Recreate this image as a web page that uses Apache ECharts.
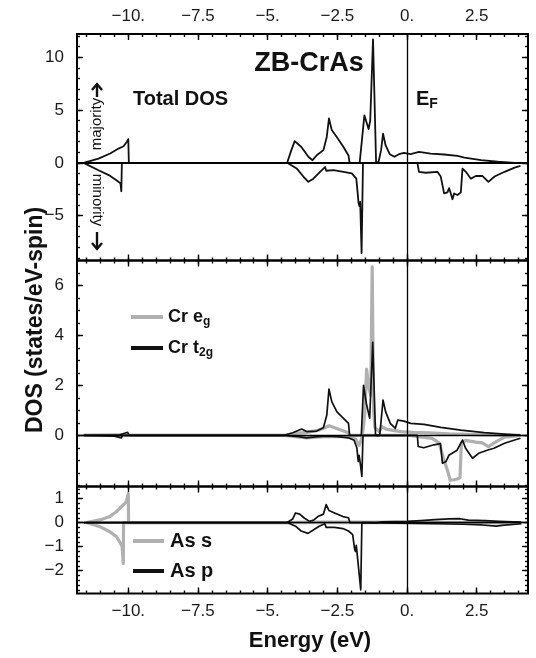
<!DOCTYPE html>
<html>
<head>
<meta charset="utf-8">
<script src="https://cdn.jsdelivr.net/npm/echarts@6/dist/echarts.min.js"></script>
<style>
html, body { margin: 0; padding: 0; background: #fff; }
#dos { width: 536px; height: 658px; }
</style>
</head>
<body>
<div id="dos"></div>
<script>
// energy axis
var xMin = -11.84, xMax = 4.34;
var xTicks = [-10, -7.5, -5, -2.5, 0, 2.5];
var xTickLabels = ['−10.', '−7.5', '−5.', '−2.5', '0.', '2.5'];

// y ticks of the three panels
var yTicksTotal = [-5, 0, 5, 10];
var yLabelsTotal = ['−5', '0', '5', '10'];
var yTicksCr = [0, 2, 4, 6];
var yLabelsCr = ['0', '2', '4', '6'];
var yTicksAs = [-2, -1, 0, 1];
var yLabelsAs = ['−2', '−1', '0', '1'];

// total DOS, [energy, dos]
var totalUp = [[-11.6,0],[-11.07,0.4],[-10.65,0.88],[-10.35,1.35],[-10.17,1.57],[-10.05,2.0],[-10.0,2.25],[-9.98,0],
  [-4.3,0],[-4.15,1.2],[-4.03,2.05],[-3.79,1.5],[-3.54,0.57],[-3.39,0.25],[-3.24,0.72],[-3.0,1.2],[-2.88,2.45],
  [-2.8,4.2],[-2.7,3.1],[-2.52,2.45],[-2.28,1.5],[-2.1,0.7],[-2.06,0],[-1.7,0],[-1.62,2.1],[-1.53,4.5],[-1.46,4.65],
  [-1.38,3.2],[-1.32,4.0],[-1.22,11.7],[-1.11,0],[-1.02,0.1],[-0.93,1.2],[-0.86,2.77],[-0.77,1.67],[-0.62,0.82],
  [-0.45,0.57],[-0.29,0.82],[-0.11,0.94],[0.13,0.82],[0.43,1.04],[0.85,0.88],[1.33,0.79],[1.81,0.66],[2.06,0.5],
  [2.66,0.25],[3.26,0.1],[3.86,0],[4.1,0]];
var totalDown = [[-11.6,0],[-11.07,-0.7],[-10.7,-1.16],[-10.4,-1.7],[-10.28,-1.95],[-10.25,-2.7],[-10.23,0],
  [-4.3,0],[-3.96,-0.53],[-3.72,-1.3],[-3.54,-1.8],[-3.36,-1.5],[-3.12,-0.85],[-2.94,-0.4],[-2.9,-0.75],[-2.64,-0.7],
  [-2.28,-0.85],[-1.98,-1.0],[-1.82,-1.5],[-1.77,-2.9],[-1.74,-3.8],[-1.71,-4.1],[-1.68,-3.7],[-1.63,-8.55],[-1.58,0],
  [0.37,0],[0.43,-0.85],[0.67,-0.94],[1.09,-0.85],[1.21,-1.3],[1.33,-2.9],[1.45,-2.8],[1.51,-2.4],[1.57,-2.9],
  [1.63,-3.45],[1.69,-2.9],[1.81,-3.05],[1.93,-2.8],[1.99,-0.55],[2.11,-0.85],[2.29,-1.5],[2.47,-1.25],[2.71,-1.25],
  [2.92,-1.8],[3.14,-1.3],[3.5,-0.85],[3.86,-0.45],[4.07,-0.3]];

// Cr d partial DOS
var egUp = [[-11.6,0],[-10.1,0.02],[-9.98,0],[-4.4,0],[-4.0,0.08],[-3.6,0.12],[-3.2,0.2],[-2.95,0.3],[-2.8,0.38],
  [-2.6,0.3],[-2.3,0.18],[-2.1,0.1],[-2.05,0],[-1.6,0],[-1.52,0.8],[-1.45,2.65],[-1.38,1.95],[-1.3,1.6],[-1.25,6.75],
  [-1.2,1.0],[-1.15,0.3],[-1.0,0.15],[-0.9,0.35],[-0.75,0.25],[-0.5,0.2],[-0.2,0.15],[0.2,0.12],[0.8,0.1],
  [1.5,0.06],[2.5,0.03],[3.5,0.01],[4.07,0]];
var egDown = [[-11.6,0],[-4.4,0],[-4.0,-0.05],[-3.6,-0.1],[-3.0,-0.05],[-2.2,-0.05],[-1.85,-0.15],[-1.72,-0.4],
  [-1.65,-0.2],[-1.6,0],[0.1,0],[0.4,-0.05],[0.9,-0.12],[1.15,-0.3],[1.3,-0.9],[1.45,-1.4],[1.55,-1.8],[1.7,-1.78],
  [1.8,-1.75],[1.9,-1.7],[1.95,-0.3],[2.1,-0.2],[2.47,-0.27],[2.7,-0.3],[2.92,-0.45],[3.2,-0.25],[3.5,-0.07],[4.07,0]];
var t2gUp = [[-11.6,0],[-10.3,0.02],[-10.02,0.12],[-9.98,0],[-4.4,0],[-4.1,0.1],[-3.78,0.25],[-3.6,0.15],[-3.24,0.17],
  [-3.0,0.3],[-2.88,0.8],[-2.8,1.85],[-2.7,1.35],[-2.52,0.95],[-2.28,0.68],[-2.1,0.48],[-2.06,0],[-1.64,0],[-1.56,2.0],
  [-1.46,1.28],[-1.34,0.68],[-1.23,3.72],[-1.13,0],[-0.98,0],[-0.86,1.41],[-0.77,0.95],[-0.6,0.48],[-0.42,0.28],
  [-0.33,0.61],[-0.11,0.57],[0.13,0.48],[0.61,0.44],[1.21,0.32],[1.93,0.21],[2.77,0.11],[3.62,0.04],[4.07,0.01]];
var t2gDown = [[-11.6,0],[-10.5,-0.03],[-10.25,-0.1],[-10.2,0],[-4.4,0],[-3.9,-0.05],[-3.6,-0.1],[-3.3,-0.06],
  [-2.9,-0.03],[-2.5,-0.05],[-2.1,-0.1],[-1.9,-0.2],[-1.8,-0.5],[-1.75,-1.05],[-1.72,-0.8],[-1.68,-1.1],[-1.62,-1.65],
  [-1.58,0],[0.37,0],[0.4,-0.45],[0.6,-0.5],[0.97,-0.38],[1.2,-0.33],[1.27,-1.12],[1.4,-1.05],[1.5,-0.8],[1.62,-0.72],
  [1.79,-0.6],[1.99,-0.19],[2.1,-0.52],[2.35,-0.92],[2.57,-0.72],[2.9,-0.59],[3.12,-0.52],[3.5,-0.32],[3.86,-0.19],
  [4.07,-0.12]];

// As partial DOS
var asSUp = [[-11.5,0],[-11.02,0.11],[-10.66,0.25],[-10.42,0.46],[-10.24,0.67],[-10.08,0.84],[-10.0,1.2],[-9.99,0],
  [-4.4,0],[-3.5,0.02],[-2.1,0.02],[-2.05,0],[4.1,0]];
var asSDown = [[-11.5,0],[-11.02,-0.17],[-10.66,-0.38],[-10.42,-0.59],[-10.28,-0.86],[-10.22,-1.0],[-10.18,-1.7],
  [-10.17,0],[4.1,0]];
var asPUp = [[-11.6,0],[-4.3,0],[-4.1,0.15],[-4.0,0.4],[-3.85,0.35],[-3.7,0.2],[-3.5,0.05],[-3.35,0.1],[-3.2,0.25],
  [-3.0,0.35],[-2.9,0.75],[-2.8,0.5],[-2.6,0.4],[-2.3,0.25],[-2.1,0.2],[-2.05,0],[-1.2,0],[-1.15,0.05],[-1.1,0],
  [-0.9,0.03],[0,0.05],[0.5,0.08],[1.0,0.12],[1.5,0.15],[1.9,0.16],[2.2,0.1],[2.8,0.08],[3.3,0.05],[3.8,0.03],[4.1,0.02]];
var asPDown = [[-11.6,0],[-4.3,0],[-4.0,-0.15],[-3.8,-0.35],[-3.55,-0.45],[-3.35,-0.3],[-3.15,-0.15],[-2.95,-0.05],
  [-2.9,-0.2],[-2.6,-0.2],[-2.3,-0.25],[-2.1,-0.35],[-1.95,-0.5],[-1.88,-1.1],[-1.85,-1.2],[-1.82,-0.95],[-1.75,-1.0],
  [-1.66,-2.8],[-1.62,0],[0.3,-0.03],[1.0,-0.05],[2.0,-0.07],[2.7,-0.1],[3.2,-0.15],[3.4,-0.12],[4.1,-0.05]];

var FONT = "'Liberation Sans', Arial, Helvetica, sans-serif";
var BLACK = '#111';
var GRAY = '#b0b0b0';

function steps(a, b, d) {
  var out = [];
  for (var v = a; v <= b + 1e-9; v += d) out.push(Math.round(v * 100) / 100);
  return out;
}

function tickAxis(kind, grid, pos, min, max, values, len, labels) {
  var ax = {
    type: 'value', gridIndex: grid, position: pos, min: min, max: max,
    axisLine: { show: false, onZero: false },
    splitLine: { show: false },
    axisTick: { show: true, inside: true, length: len, customValues: values,
      lineStyle: { color: '#000', width: 1.4 } },
    axisLabel: { show: false }
  };
  if (labels) {
    ax.axisLabel = {
      show: true, customValues: values, margin: kind === 'x' ? 9 : 13,
      fontSize: 17, fontFamily: FONT, color: '#1a1a1a',
      formatter: function (v) {
        for (var i = 0; i < values.length; i++) {
          if (Math.abs(values[i] - v) < 1e-6) return labels[i];
        }
        return '';
      }
    };
  }
  return ax;
}

var grids = [
  { left: 77, right: 8, top: 34, height: 226.5 },
  { left: 77, right: 8, top: 260.5, height: 226 },
  { left: 77, right: 8, top: 486.5, height: 107 }
];
var yRanges = [[-9.25, 12.2], [-2.05, 7], [-2.95, 1.5]];
var yMajor = [yTicksTotal, yTicksCr, yTicksAs];
var yLabels = [yLabelsTotal, yLabelsCr, yLabelsAs];
var yMinor = [steps(-9, 12, 1), steps(-2, 7, 0.5), steps(-2.8, 1.4, 0.2)];
var xMinor = steps(-11.5, 4, 0.5);

var xAxes = [], yAxes = [];
for (var g = 0; g < 3; g++) {
  xAxes.push(tickAxis('x', g, 'bottom', xMin, xMax, xTicks, 6, g === 2 ? xTickLabels : null));
  xAxes.push(tickAxis('x', g, 'bottom', xMin, xMax, xMinor, 3, null));
  xAxes.push(tickAxis('x', g, 'top', xMin, xMax, xTicks, 6, g === 0 ? xTickLabels : null));
  xAxes.push(tickAxis('x', g, 'top', xMin, xMax, xMinor, 3, null));
  var r = yRanges[g];
  yAxes.push(tickAxis('y', g, 'left', r[0], r[1], yMajor[g], 6, yLabels[g]));
  yAxes.push(tickAxis('y', g, 'left', r[0], r[1], yMinor[g], 3, null));
  yAxes.push(tickAxis('y', g, 'right', r[0], r[1], yMajor[g], 6, null));
  yAxes.push(tickAxis('y', g, 'right', r[0], r[1], yMinor[g], 3, null));
}

function dosLine(name, data, g, color, width, zeroWidth) {
  var s = {
    name: name, type: 'line', data: data,
    xAxisIndex: 4 * g, yAxisIndex: 4 * g,
    showSymbol: false, symbol: 'none', clip: true,
    lineStyle: { color: color, width: width, join: 'round' },
    z: color === GRAY ? 2 : 3
  };
  if (zeroWidth) {
    s.markLine = {
      silent: true, symbol: 'none', animation: false, label: { show: false },
      data: [
        { yAxis: 0, lineStyle: { color: '#000', width: zeroWidth, type: 'solid' } },
        { xAxis: 0, lineStyle: { color: '#000', width: 1.3, type: 'solid' } }
      ]
    };
  }
  return s;
}

var series = [
  dosLine('total up', totalUp, 0, BLACK, 1.8, 2),
  dosLine('total down', totalDown, 0, BLACK, 1.8),
  dosLine('Cr eg up', egUp, 1, GRAY, 3.2, 1.3),
  dosLine('Cr eg down', egDown, 1, GRAY, 3.2),
  dosLine('Cr t2g up', t2gUp, 1, BLACK, 1.7),
  dosLine('Cr t2g down', t2gDown, 1, BLACK, 1.7),
  dosLine('As s up', asSUp, 2, GRAY, 3.2, 1.3),
  dosLine('As s down', asSDown, 2, GRAY, 3.2),
  dosLine('As p up', asPUp, 2, BLACK, 1.7),
  dosLine('As p down', asPDown, 2, BLACK, 1.7)
];

function label(x, y, text, size, extra, rotation) {
  var el = {
    type: 'text', x: x, y: y, z: 10, rotation: rotation || 0,
    style: { text: text, font: 'bold ' + size + 'px ' + FONT, fill: BLACK,
      textAlign: 'left', textVerticalAlign: 'middle' }
  };
  for (var k in extra) el.style[k] = extra[k];
  return el;
}
function sub(main, s, size) {
  return {
    text: '{a|' + main + '}{b|' + s + '}',
    rich: {
      a: { fontSize: size, fontWeight: 'bold', fontFamily: FONT, color: BLACK, lineHeight: size + 4 },
      b: { fontSize: Math.round(size * 0.68), fontWeight: 'bold', fontFamily: FONT, color: BLACK,
        lineHeight: Math.round(size * 0.68), padding: [Math.round(size * 0.55), 0, 0, 0] }
    }
  };
}
function spinWord(y, word, rotation) {
  return {
    type: 'text', x: 97, y: y, rotation: rotation, z: 10,
    style: { text: word, font: '15px ' + FONT, fill: BLACK,
      textAlign: 'center', textVerticalAlign: 'middle' }
  };
}
// vertical arrow: tail at y0, tip at y1
function spinArrow(y0, y1) {
  var d = y1 > y0 ? -6 : 6;
  return {
    type: 'group', z: 10,
    children: [
      { type: 'line', shape: { x1: 97, y1: y0, x2: 97, y2: y1 }, style: { stroke: BLACK, lineWidth: 2.4 } },
      { type: 'polyline', shape: { points: [[92, y1 + d], [97, y1], [102, y1 + d]] },
        style: { stroke: BLACK, lineWidth: 2.4, fill: null, lineJoin: 'miter' } }
    ]
  };
}
function legendKey(x1, x2, y, color) {
  return { type: 'line', z: 10, shape: { x1: x1, y1: y, x2: x2, y2: y },
    style: { stroke: color, lineWidth: 4 } };
}

var graphics = [
  label(309, 64, 'ZB-CrAs', 27, { textAlign: 'center' }),
  label(133, 99, 'Total DOS', 20),
  label(416, 99, '', 20, sub('E', 'F', 20)),
  spinWord(124, 'majority', Math.PI / 2),
  spinArrow(97, 84),
  spinWord(200, 'minority', -Math.PI / 2),
  spinArrow(232, 249),
  legendKey(131, 163, 317, GRAY),
  label(168, 317, '', 18, sub('Cr e', 'g', 18)),
  legendKey(131, 163, 348, BLACK),
  label(168, 348, '', 18, sub('Cr t', '2g', 18)),
  legendKey(133, 164, 541, GRAY),
  label(170, 541, 'As s', 20),
  legendKey(133, 164, 571, BLACK),
  label(170, 571, 'As p', 20),
  label(36, 320, 'DOS (states/eV-spin)', 23, { textAlign: 'center' }, Math.PI / 2),
  label(310, 641, 'Energy (eV)', 22, { textAlign: 'center' })
];

var chart = echarts.init(document.getElementById('dos'));
chart.setOption({
  animation: false,
  backgroundColor: '#fff',
  grid: grids.map(function (gr) {
    return { left: gr.left, right: gr.right, top: gr.top, height: gr.height,
      show: true, borderColor: '#000', borderWidth: 2, backgroundColor: 'transparent' };
  }),
  xAxis: xAxes,
  yAxis: yAxes,
  series: series,
  graphic: graphics
});
</script>
</body>
</html>
